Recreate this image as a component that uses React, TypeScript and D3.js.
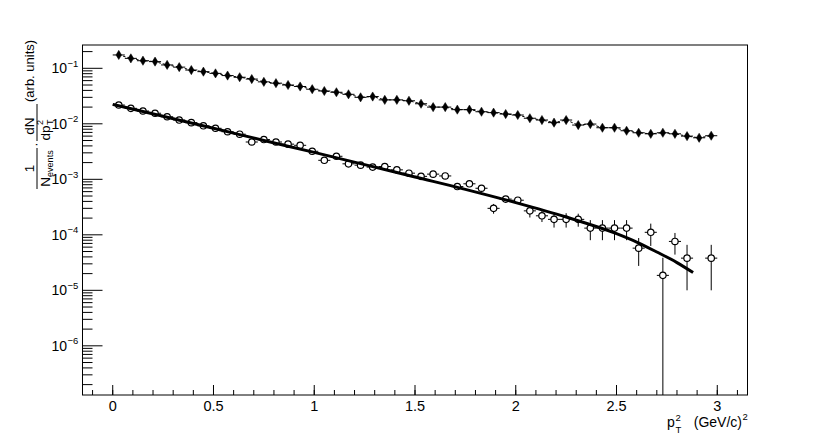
import React from "react";
import * as d3 from "d3";

const binCenters = [
  0.03, 0.09, 0.15, 0.21, 0.27, 0.33, 0.39, 0.45, 0.51, 0.57, 0.63, 0.69, 0.75, 0.81, 0.87, 0.93, 0.99,
  1.05, 1.11, 1.17, 1.23, 1.29, 1.35, 1.41, 1.47, 1.53, 1.59, 1.65, 1.71, 1.77, 1.83, 1.89, 1.95, 2.01,
  2.07, 2.13, 2.19, 2.25, 2.31, 2.37, 2.43, 2.49, 2.55, 2.61, 2.67, 2.73, 2.79, 2.85, 2.91, 2.97,
];
const halfBin = 0.03;

const upperValues = [
  0.174, 0.151, 0.137, 0.132, 0.115, 0.105, 0.093, 0.087, 0.081, 0.074, 0.069, 0.064, 0.057, 0.054, 0.05, 0.047, 0.042,
  0.039, 0.037, 0.034, 0.03, 0.031, 0.027, 0.027, 0.026, 0.023, 0.02, 0.02, 0.018, 0.018, 0.0165, 0.0159, 0.015, 0.0144,
  0.0126, 0.0117, 0.0105, 0.0117, 0.0095, 0.0099, 0.0085, 0.0085, 0.0075, 0.0069, 0.0066, 0.0069, 0.0066, 0.006, 0.0056,
  0.0061,
];

const lowerValues: (number | null)[] = [
  0.0218, 0.019, 0.017, 0.0155, 0.0134, 0.0117, 0.0105, 0.0092, 0.0083, 0.0072, 0.0065, 0.0047, 0.0052, 0.0047, 0.0043,
  0.0041, 0.0032, 0.0022, 0.0026, 0.0019, 0.0018, 0.00166, 0.0017, 0.00148, 0.00129, 0.00113, 0.00124, 0.00115, 0.00074,
  0.00083, 0.00069, 0.0003, 0.00044, 0.00042, 0.00027, 0.00022, 0.00019, 0.00019, 0.00019, 0.000132, 0.000132, 0.000132,
  0.000132, 0.0000575, 0.000111, 0.0000186, 0.000076, 0.000038, null, 0.000038,
];
const lowerErrors: (number | null)[] = [
  0.0005, 0.0004, 0.0004, 0.0004, 0.0003, 0.0003, 0.0003, 0.0003, 0.0003, 0.0002, 0.0002, 0.0002, 0.0002, 0.0002, 0.0002,
  0.0002, 0.0002, 0.00012, 0.00013, 0.00011, 0.00011, 0.0001, 0.0001, 0.0001, 0.00009, 0.00009, 0.00009, 0.00009, 0.00007,
  0.00007, 0.00007, 0.00006, 0.00006, 0.00006, 0.000065, 0.00005, 0.000055, 0.000055, 0.00005, 0.000052, 0.000052,
  0.000052, 0.000052, 0.00003, 0.000048, 0.00002, 0.000032, 0.000028, null, 0.000028,
];

const fitX = [0, 0.25, 0.5, 0.75, 1.0, 1.25, 1.5, 1.75, 2.0, 2.25, 2.5, 2.6, 2.7, 2.8, 2.88];
const fitY = [
  0.02239, 0.01365, 0.00832, 0.00501, 0.003055, 0.00184, 0.0011, 0.00066, 0.00038, 0.000209, 0.000105, 0.0000741,
  0.000049, 0.0000316, 0.0000209,
];

const xTickValues = [0, 0.5, 1, 1.5, 2, 2.5, 3];
const xTickLabels = ["0", "0.5", "1", "1.5", "2", "2.5", "3"];
const yDecadeExponents = [-6, -5, -4, -3, -2, -1];
const yDecadeLabels = ["\u22126", "\u22125", "\u22124", "\u22123", "\u22122", "\u22121"];

const W = 830;
const H = 440;
const FL = 82.5;
const FR = 747.5;
const FT = 45;
const FB = 395;
const FONT = "'Liberation Sans', Arial, Helvetica, sans-serif";

export default function App() {
  const x = d3.scaleLinear().domain([-0.15, 3.15]).range([FL, FR]);
  const y = d3.scaleLog().domain([1.3e-7, 0.263]).range([FB, FT]);
  const [ymin, ymax] = y.domain();

  const xMinor = d3.range(-1, 32).map((i) => i / 10).filter((v) => v >= -0.15 && v <= 3.15);
  const yMinor: number[] = [];
  for (let k = -7; k <= 0; k++) {
    for (let m = 2; m <= 9; m++) {
      const v = m * Math.pow(10, k);
      if (v >= ymin && v <= ymax) yMinor.push(v);
    }
  }

  const upperLine = d3
    .line<number>()
    .x((_, i) => x(binCenters[i]))
    .y((d) => y(d))(upperValues);

  const fitLine = d3
    .line<number>()
    .x((_, i) => x(fitX[i]))
    .y((d) => y(d))
    .curve(d3.curveMonotoneX)(fitY);

  const r = 3.2;
  const dhw = 2.8;
  const dhh = 4.6;

  return (
    <svg
      width={W}
      height={H}
      style={{ position: "absolute", left: 0, top: 0, background: "#fff" }}
      fontFamily={FONT}
    >
      <rect x={0} y={0} width={W} height={H} fill="#fff" />
      <defs>
        <clipPath id="frameClip">
          <rect x={FL} y={FT} width={FR - FL} height={FB - FT} />
        </clipPath>
      </defs>

      {/* x ticks */}
      {xMinor.map((v, i) => (
        <line key={"xm" + i} x1={x(v)} x2={x(v)} y1={FB} y2={FB - 5} stroke="#000" strokeWidth={1} />
      ))}
      {xTickValues.map((v, i) => (
        <g key={"xt" + i}>
          <line x1={x(v)} x2={x(v)} y1={FB} y2={FB - 10} stroke="#000" strokeWidth={1} />
          <text x={x(v)} y={410.5} textAnchor="middle" fontSize={14.5} fill="#000">
            {xTickLabels[i]}
          </text>
        </g>
      ))}

      {/* y ticks */}
      {yMinor.map((v, i) => (
        <line key={"ym" + i} x1={FL} x2={FL + 10} y1={y(v)} y2={y(v)} stroke="#000" strokeWidth={1} />
      ))}
      {yDecadeExponents.map((k, i) => {
        const yy = y(Math.pow(10, k));
        return (
          <g key={"yt" + i}>
            <line x1={FL} x2={FL + 20} y1={yy} y2={yy} stroke="#000" strokeWidth={1} />
            <text x={67} y={yy + 5} textAnchor="end" fontSize={14} fill="#000">
              10
            </text>
            <text x={67.5} y={yy - 1.5} textAnchor="start" fontSize={9.5} fill="#000">
              {yDecadeLabels[i]}
            </text>
          </g>
        );
      })}

      <g clipPath="url(#frameClip)">
        {/* upper series dashed connecting line */}
        <path d={upperLine || ""} fill="none" stroke="#000" strokeWidth={1} strokeDasharray="2.5 2" />
        {/* upper series error bars + diamonds */}
        {upperValues.map((v, i) => {
          const cx = x(binCenters[i]);
          const cy = y(v);
          return (
            <g key={"u" + i}>
              <line x1={x(binCenters[i] - halfBin)} x2={x(binCenters[i] + halfBin)} y1={cy} y2={cy} stroke="#000" strokeWidth={1} />
              <path
                d={`M${cx},${cy - dhh}L${cx + dhw},${cy}L${cx},${cy + dhh}L${cx - dhw},${cy}Z`}
                fill="#000"
                stroke="#000"
                strokeWidth={0.5}
              />
            </g>
          );
        })}

        {/* fit */}
        <path d={fitLine || ""} fill="none" stroke="#000" strokeWidth={3} />

        {/* lower series */}
        {lowerValues.map((v, i) => {
          if (v == null) return null;
          const e = lowerErrors[i] || 0;
          const cx = x(binCenters[i]);
          const cy = y(v);
          const yTop = y(v + e);
          const yBot = v - e > ymin ? y(v - e) : FB;
          return (
            <g key={"l" + i}>
              <line x1={x(binCenters[i] - halfBin)} x2={cx - r} y1={cy} y2={cy} stroke="#000" strokeWidth={1} />
              <line x1={cx + r} x2={x(binCenters[i] + halfBin)} y1={cy} y2={cy} stroke="#000" strokeWidth={1} />
              {cy - yTop > r && <line x1={cx} x2={cx} y1={cy - r} y2={yTop} stroke="#000" strokeWidth={1} />}
              {yBot - cy > r && <line x1={cx} x2={cx} y1={cy + r} y2={yBot} stroke="#000" strokeWidth={1} />}
              <circle cx={cx} cy={cy} r={r} fill="none" stroke="#000" strokeWidth={1.2} />
            </g>
          );
        })}
      </g>

      {/* frame */}
      <rect x={FL} y={FT} width={FR - FL} height={FB - FT} fill="none" stroke="#000" strokeWidth={1} />

      {/* x axis title */}
      <g fill="#000">
        <text x={667} y={427} fontSize={14}>p</text>
        <text x={675.5} y={421} fontSize={9.5}>2</text>
        <text x={675.5} y={433} fontSize={9.5}>T</text>
        <text x={742} y={427} fontSize={14} textAnchor="end">(GeV/c)</text>
        <text x={742.5} y={420} fontSize={9.5}>2</text>
      </g>

      {/* y axis title */}
      <g transform="translate(37,190) rotate(-90)" fill="#000">
        <line x1={1} x2={42} y1={0} y2={0} stroke="#000" strokeWidth={1} />
        <text x={21.5} y={-3} fontSize={13.5} textAnchor="middle">1</text>
        <text x={21.5} y={12.5} fontSize={13.5} textAnchor="middle">
          N<tspan fontSize={9} dy={3}>events</tspan>
        </text>
        <text x={45.5} y={3} fontSize={13} textAnchor="middle">·</text>
        <line x1={49} x2={86} y1={0} y2={0} stroke="#000" strokeWidth={1} />
        <text x={64} y={-3} fontSize={13.5} textAnchor="middle">dN</text>
        <text x={49.5} y={12.5} fontSize={13.5}>dp</text>
        <text x={65} y={5.5} fontSize={9}>2</text>
        <text x={65} y={16} fontSize={9}>T</text>
        <text x={88} y={-3} fontSize={13}>(arb. units)</text>
      </g>
    </svg>
  );
}
